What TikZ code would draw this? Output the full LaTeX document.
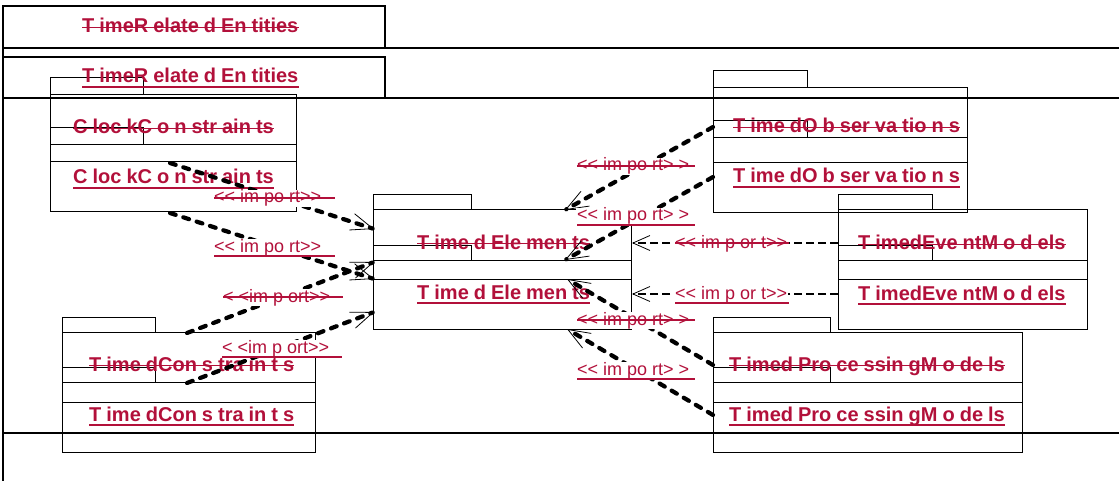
\documentclass[tikz,border=0pt]{standalone}
\usepackage{fontspec}
\setmainfont[Ligatures=TeXOff]{Liberation Sans}
\usetikzlibrary{arrows.meta,calc,fit}
\definecolor{crim}{RGB}{178,16,58}
\newcommand\pkfont{\bfseries\fontsize{20}{24}\selectfont\spaceskip=5pt\relax}
\newcommand\pkgdraw[7]{%
  \draw[box] (#2,#5) rectangle (#4,#6);
  \node[box,fit={(#2,#6) (#3,#7)}] (#1) {};}
\begin{document}
\begin{tikzpicture}[x=1pt,y=-1pt,
  frame/.style={draw=black,line width=1.1pt},
  box/.style={draw=black,line width=1pt,inner sep=0pt},
  pname/.style={font=\pkfont,text=crim,inner sep=0pt,anchor=base west},
  ilabel/.style={font=\fontsize{18}{22}\selectfont,text=crim,inner xsep=1pt,inner ysep=0pt,anchor=base west,fill=white,text height=13pt,text depth=4pt},
  strk/.style={draw=crim,line width=1.4pt},
  uline/.style={draw=crim,line width=2.6pt},
  imp/.style={line width=4.2pt,dash pattern=on 6pt off 8pt,line cap=round,-{Straight Barb[length=22pt,width=17pt,line width=0.8pt 0 1]}},
  impthin/.style={line width=2.6pt,dash pattern=on 8pt off 4pt,-{Straight Barb[length=17pt,width=15pt,line width=0.8pt 0 1]}}]
\useasboundingbox (0,0) rectangle (1119,481);
% frames
\draw[frame] (3,6) rectangle (385,48);
\draw[frame] (3,57) rectangle (385,98);
\draw[frame] (3,48) -- (1125,48);
\draw[frame] (3,98) -- (1125,98);
\draw[frame] (3,433) -- (1125,433);
\draw[frame] (3,6) -- (3,490);
% packages
\pkgdraw{cc1}{50}{296}{143}{78}{95}{162}
\pkgdraw{cc2}{50}{296}{143}{128}{145}{212}
\pkgdraw{te1}{373}{631}{471}{195}{210}{279}
\pkgdraw{te2}{373}{631}{471}{245}{260}{329}
\pkgdraw{to1}{713}{967}{807}{71}{88}{163}
\pkgdraw{to2}{713}{967}{807}{121}{138}{213}
\pkgdraw{em1}{838}{1087}{932}{195}{210}{279}
\pkgdraw{em2}{838}{1087}{932}{245}{260}{329}
\pkgdraw{pm1}{713}{1022}{830}{317}{332}{402}
\pkgdraw{pm2}{713}{1022}{830}{367}{382}{452}
\pkgdraw{tc1}{62}{315}{155}{317}{332}{402}
\pkgdraw{tc2}{62}{315}{155}{367}{382}{452}
% package names
\node[pname] (tre1) at (82,33) {T imeR elate d En tities};
\node[pname] (tre2) at (82,83) {T imeR elate d En tities};
\node[pname] (ccn1) at (73,134) {C loc kC o n str ain ts};
\node[pname] (ccn2) at (73,184) {C loc kC o n str ain ts};
\node[pname] (ten1) at (417,249) {T ime d Ele men ts};
\node[pname] (ten2) at (417,299) {T ime d Ele men ts};
\node[pname] (ton1) at (733,133) {T ime dO b ser va tio n s};
\node[pname] (ton2) at (733,183) {T ime dO b ser va tio n s};
\node[pname] (emn1) at (858,250) {T imedEve ntM o d els};
\node[pname] (emn2) at (858,300) {T imedEve ntM o d els};
\node[pname] (pmn1) at (729,371) {T imed Pro ce ssin gM o de ls};
\node[pname] (pmn2) at (729,421) {T imed Pro ce ssin gM o de ls};
\node[pname] (tcn1) at (89,371) {T ime dCon s tra in t s};
\node[pname] (tcn2) at (89,421) {T ime dCon s tra in t s};
\foreach \n in {tre1,ccn1,ten1,ton1,emn1,pmn1,tcn1}
  \draw[strk] ($(\n.base west)+(0,-5.5)$) -- ($(\n.base east)+(0,-5.5)$);
\foreach \n in {tre2,ccn2,ten2,ton2,emn2,pmn2,tcn2}
  \draw[uline] ($(\n.base west)+(0,4)$) -- ($(\n.base east)+(0,4)$);
% connector end points
\coordinate (a1s) at (170,163); \coordinate (a1e) at (374,229);
\coordinate (a2s) at (170,213); \coordinate (a2e) at (374,279);
\coordinate (b1s) at (187,333); \coordinate (b1e) at (374,262);
\coordinate (b2s) at (187,383); \coordinate (b2e) at (374,312);
\coordinate (c1s) at (713,127); \coordinate (c1e) at (565,210);
\coordinate (c2s) at (713,177); \coordinate (c2e) at (565,260);
\coordinate (d1s) at (838,243); \coordinate (d1e) at (632,243);
\coordinate (d2s) at (838,294); \coordinate (d2e) at (632,294);
\coordinate (e1s) at (713,365); \coordinate (e1e) at (567,279);
\coordinate (e2s) at (713,415); \coordinate (e2e) at (567,329);
\foreach \s/\e in {a1s/a1e,a2s/a2e,b1s/b1e,b2s/b2e,c1s/c1e,c2s/c2e,e1s/e1e,e2s/e2e}
  \draw[imp] (\s) -- (\e);
\draw[impthin] (d1s) -- (d1e);
\draw[impthin] (d2s) -- (d2e);
% import labels
\node[ilabel] (la1) at (213,203) {<{}< im po rt>{}>};
\node[ilabel] (la2) at (213,252) {<{}< im po rt>{}>};
\node[ilabel] (lb1) at (222,302) {< <im p ort>{}>};
\node[ilabel] (lb2) at (221,353) {< <im p ort>{}>};
\node[ilabel] (lc1) at (576,171) {<{}< im po rt> >};
\node[ilabel] (lc2) at (576,221) {<{}< im po rt> >};
\node[ilabel] (ld1) at (674,248) {<{}< im p or t>{}>};
\node[ilabel] (ld2) at (674,299) {<{}< im p or t>{}>};
\node[ilabel] (le1) at (576,325) {<{}< im po rt> >};
\node[ilabel] (le2) at (576,375) {<{}< im po rt> >};
\foreach \n/\w in {la1/122,lb1/121,lc1/119,ld1/115,le1/119}
  \draw[strk,line width=1.2pt] ($(\n.base west)+(1,-5)$) -- ($(\n.base west)+(\w,-5)$);
\foreach \n/\w in {la2/122,lb2/121,lc2/119,ld2/115,le2/119}
  \draw[uline,line width=2.4pt] ($(\n.base west)+(1,4)$) -- ($(\n.base west)+(\w,4)$);
\end{tikzpicture}
\end{document}
